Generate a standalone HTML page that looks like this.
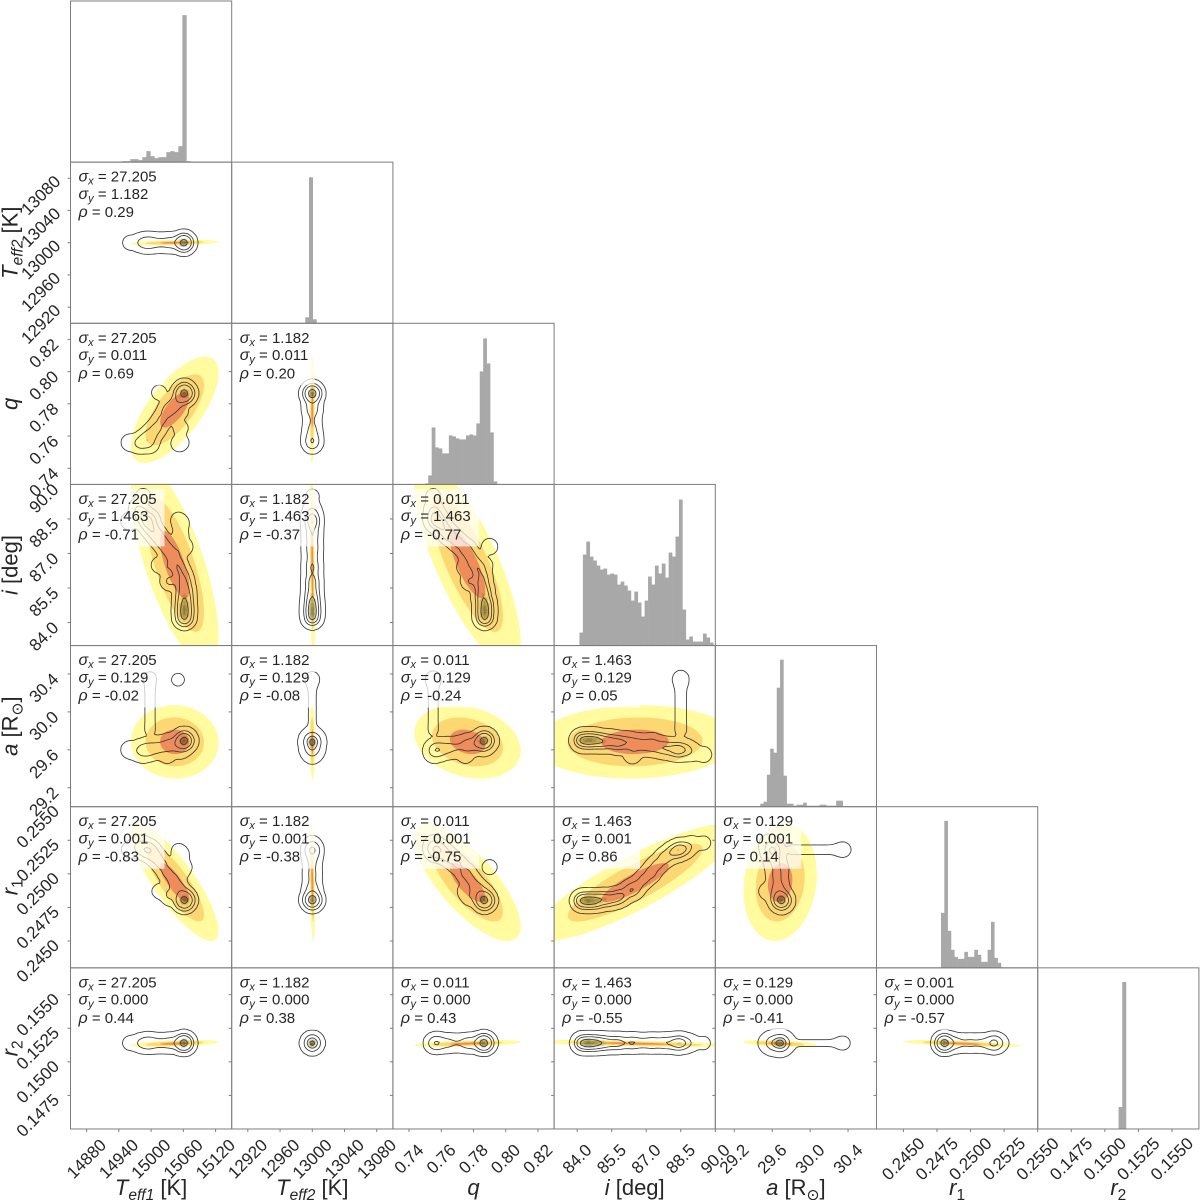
<!DOCTYPE html>
<html lang="en">
<head>
<meta charset="utf-8">
<title>Corner plot</title>
<style>
html,body{margin:0;padding:0;background:#fff;}
svg{display:block;font-family:"Liberation Sans","DejaVu Sans",sans-serif;}
</style>
</head>
<body>
<svg id="chart" xmlns="http://www.w3.org/2000/svg" width="1200" height="1200" viewBox="0 0 1200 1200"></svg>
<script>
// ---------- Data ----------
const paramKeys = ["teff1","teff2","q","i","a","r1","r2"];
const axisMin = [14850,12900,0.73,83,29.0,0.243,0.145];
const axisMax = [15150,13100,0.83,90,30.7,0.255,0.157];
const ticksT1 = [14880,14940,15000,15060,15120];
const ticksT2 = [12920,12960,13000,13040,13080];
const ticksQ = [0.74,0.76,0.78,0.80,0.82];
const ticksI = [84,85.5,87,88.5,90];
const ticksA = [29.2,29.6,30.0,30.4];
const ticksR1 = [0.245,0.2475,0.25,0.2525,0.255];
const ticksR2 = [0.1475,0.15,0.1525,0.155];
const labelsT1 = ["14880","14940","15000","15060","15120"];
const labelsT2 = ["12920","12960","13000","13040","13080"];
const labelsQ = ["0.74","0.76","0.78","0.80","0.82"];
const labelsI = ["84.0","85.5","87.0","88.5","90.0"];
const labelsA = ["29.2","29.6","30.0","30.4"];
const labelsR1 = ["0.2450","0.2475","0.2500","0.2525","0.2550"];
const labelsR2 = ["0.1475","0.1500","0.1525","0.1550"];

// Gaussian summary per parameter (centre and width of the shaded ellipses)
const gaussMean = [15044,13000,0.7763,86.52,29.684,0.24935,0.15136];
const gaussSigma = [27.205,1.182,0.011,1.463,0.129,0.00145,0.00009];
const sigmaText = ["27.205","1.182","0.011","1.463","0.129","0.001","0.000"];

// Correlations, row by row (row 2 has one column, row 3 two, ...)
const rhoRow1 = [0.29];
const rhoRow2 = [0.69,0.20];
const rhoRow3 = [-0.71,-0.37,-0.77];
const rhoRow4 = [-0.02,-0.08,-0.24,0.05];
const rhoRow5 = [-0.83,-0.38,-0.75,0.86,0.14];
const rhoRow6 = [0.44,0.38,0.43,-0.55,-0.41,-0.57];
const rhoTextRow1 = ["0.29"];
const rhoTextRow2 = ["0.69","0.20"];
const rhoTextRow3 = ["-0.71","-0.37","-0.77"];
const rhoTextRow4 = ["-0.02","-0.08","-0.24","0.05"];
const rhoTextRow5 = ["-0.83","-0.38","-0.75","0.86","0.14"];
const rhoTextRow6 = ["0.44","0.38","0.43","-0.55","-0.41","-0.57"];

// Histograms: first bin edge, bin width, bar heights (px-scaled counts, peak 147)
const histStart = [14939,12991.3,0.7498,84.1,29.474,0.2478,0.15102];
const histStep = [7.45,4.6,0.00213,0.149,0.0348,0.000248,0.000275];
const histT1 = [0.5,1,1,3,3,2,5,11,6,4,5,5,10,11,10,16,147,1];
const histT2 = [6,146,4];
const histQ = [1,9,57,37,36,31,31,49,48,46,45,45,49,50,49,61,113,146,121,52,3];
const histI = [13,91,104,89,85,80,76,77,71,72,71,61,64,60,55,45,54,43,29,45,69,61,80,72,82,68,93,89,109,146,36,6,9,4,4,4,12,8,3];
const histA = [3,5,32,58,54,119,147,31,3,3,1,2,2,4,1,1,1,1,2,2,1,1,1,6,6];
const histR1 = [55,147,37,18,11,9,9,16,11,11,18,13,6,6,18,46,10,5];
const histR2 = [22,147];

// Posterior ridge nodes: one sample cluster per array index
const nodeT1 = [15062,15062,15062,15062,15062,15060,15058,15052,15047,15040,15030,15020,15010,15000,14992,14982,14975,14985,15062,15055,15055,15055,14960,15035,15015,14998,14998,14998,14998,14998,14998,14998,14998,15050,15030];
const nodeT2 = [13000,13000,13000,13000,13000,13000,13000,13000,13000,13000,13000,13000,13000,13000,13000,13000,13000,13000,13000,13000,13000,13000,13000,13000,13000,13000,13000,13000,13000,13000,13000,13000,13000,13000,13000];
const nodeQ = [0.787,0.787,0.787,0.786,0.786,0.785,0.785,0.783,0.781,0.778,0.775,0.770,0.765,0.761,0.758,0.756,0.755,0.755,0.790,0.756,0.765,0.775,0.756,0.778,0.787,0.755,0.755,0.755,0.755,0.755,0.755,0.755,0.755,0.755,0.775];
const nodeI = [84.2,84.5,84.8,85.1,85.4,85.7,86.0,86.3,86.6,86.9,87.2,87.5,87.8,88.1,88.4,88.7,89.0,89.5,87.3,88.3,87.8,87.2,88.4,85.8,86.5,88.5,88.5,88.5,88.5,88.5,88.5,88.5,88.5,88.5,86.4];
const nodeA = [29.70,29.70,29.70,29.69,29.69,29.68,29.68,29.67,29.66,29.65,29.65,29.63,29.62,29.61,29.60,29.60,29.58,29.55,29.68,29.60,29.62,29.64,29.60,29.66,29.62,29.80,29.88,29.96,30.04,30.12,30.20,30.28,30.36,30.34,29.55];
const nodeR1 = [0.2480,0.2480,0.2480,0.2481,0.2481,0.2482,0.2484,0.2488,0.2491,0.2496,0.2501,0.2507,0.2512,0.2516,0.2518,0.2519,0.2522,0.2523,0.2505,0.2515,0.2512,0.2500,0.2518,0.2483,0.2487,0.2518,0.2518,0.2518,0.2518,0.2518,0.2518,0.2518,0.2518,0.2518,0.2487];
const nodeR2 = [0.1514,0.1514,0.1514,0.1514,0.1514,0.1514,0.1514,0.1514,0.1514,0.1514,0.1514,0.1514,0.1514,0.1514,0.1514,0.1514,0.1514,0.1514,0.1514,0.1514,0.1514,0.1514,0.1514,0.1514,0.1514,0.1514,0.1514,0.1514,0.1514,0.1514,0.1514,0.1514,0.1514,0.1514,0.1514];
const nodeWeight = [10,12,10,7,5,4,3,3,2.5,2.5,2.5,2.5,3,3.5,5,3,0.8,0.4,0.6,0.7,0.5,0.5,0.8,1.5,0.5,0.14,0.12,0.12,0.12,0.12,0.12,0.14,0.22,0.25,0.8];

// Enclosed-mass fractions of the four contour lines
const contourMass = [0.2,0.55,0.88,0.995];
// Fractions of the peak density shaded by the dark core
const coreFractions = [0.5,0.65,0.78,0.88,0.95];

// ---------- Layout ----------
const SVGNS = "http://www.w3.org/2000/svg";
const root = document.getElementById("chart");
const gridLeft = 70.5, gridTop = 1, cell = 161.2, rowCell = 161.14;
const nVars = paramKeys.length;
const tickSets = [ticksT1,ticksT2,ticksQ,ticksI,ticksA,ticksR1,ticksR2];
const labelSets = [labelsT1,labelsT2,labelsQ,labelsI,labelsA,labelsR1,labelsR2];
const histSets = [histT1,histT2,histQ,histI,histA,histR1,histR2];
const nodeSets = [nodeT1,nodeT2,nodeQ,nodeI,nodeA,nodeR1,nodeR2];
const rhoRows = [[],rhoRow1,rhoRow2,rhoRow3,rhoRow4,rhoRow5,rhoRow6];
const rhoTextRows = [[],rhoTextRow1,rhoTextRow2,rhoTextRow3,rhoTextRow4,rhoTextRow5,rhoTextRow6];

function xScale(v,val){return gridLeft+v*cell+(val-axisMin[v])/(axisMax[v]-axisMin[v])*cell;}
function yScale(v,val){return gridTop+v*rowCell+(axisMax[v]-val)/(axisMax[v]-axisMin[v])*rowCell;}
function make(tag,attrs,parent){
  const e=document.createElementNS(SVGNS,tag);
  for(const k in attrs){e.setAttribute(k,attrs[k]);}
  (parent||root).appendChild(e);
  return e;
}
function f(n){return n.toFixed(2);}

// ---------- Ellipses ----------
function ellipsePath(cx,cy,k,rho){
  const steps=90;let d="";
  const s=Math.sqrt(Math.max(0,1-rho*rho));
  for(let t=0;t<steps;t++){
    const a=t/steps*2*Math.PI;
    const vx=gaussMean[cx]+k*gaussSigma[cx]*Math.cos(a);
    const vy=gaussMean[cy]+k*gaussSigma[cy]*(rho*Math.cos(a)+s*Math.sin(a));
    d+=(t?"L":"M")+f(xScale(cx,vx))+" "+f(yScale(cy,vy));
  }
  return d+"Z";
}

// ---------- Kernel density from the ridge nodes ----------
const gridN=80;
const bandwidth=0.025;
function densityGrid(cx,cy){
  const g=new Float64Array((gridN+1)*(gridN+1));
  const xs=nodeSets[cx],ys=nodeSets[cy];
  const xr=axisMax[cx]-axisMin[cx],yr=axisMax[cy]-axisMin[cy];
  for(let n=0;n<nodeWeight.length;n++){
    const nx=(xs[n]-axisMin[cx])/xr,ny=(axisMax[cy]-ys[n])/yr;
    for(let j=0;j<=gridN;j++){
      const dy=(j/gridN-ny)/bandwidth;
      const ey=Math.exp(-0.5*dy*dy);
      if(ey<1e-7)continue;
      for(let i=0;i<=gridN;i++){
        const dx=(i/gridN-nx)/bandwidth;
        g[j*(gridN+1)+i]+=nodeWeight[n]*ey*Math.exp(-0.5*dx*dx);
      }
    }
  }
  return g;
}
function massLevels(g){
  const sorted=Array.from(g).sort(function(a,b){return b-a;});
  let total=0;for(const v of sorted){total+=v;}
  const out=[];let acc=0,idx=0;
  for(const m of contourMass){
    while(idx<sorted.length&&acc<m*total){acc+=sorted[idx];idx++;}
    out.push(sorted[Math.max(0,idx-1)]);
  }
  return out;
}
function contourPath(g,level,ox,oy){
  const dx=cell/gridN,dy=rowCell/gridN,W=gridN+1;
  let d="";
  function lerp(a,b){return (level-a)/(b-a);}
  for(let j=0;j<gridN;j++){
    for(let i=0;i<gridN;i++){
      const a=g[j*W+i],b=g[j*W+i+1],c=g[(j+1)*W+i+1],e=g[(j+1)*W+i];
      let code=0;
      if(a>=level)code|=8;if(b>=level)code|=4;if(c>=level)code|=2;if(e>=level)code|=1;
      if(code===0||code===15)continue;
      const x0=ox+i*dx,y0=oy+j*dy;
      const T=[x0+lerp(a,b)*dx,y0];
      const R=[x0+dx,y0+lerp(b,c)*dy];
      const B=[x0+lerp(e,c)*dx,y0+dy];
      const L=[x0,y0+lerp(a,e)*dy];
      let segs=[];
      switch(code){
        case 1:case 14:segs=[[L,B]];break;
        case 2:case 13:segs=[[B,R]];break;
        case 3:case 12:segs=[[L,R]];break;
        case 4:case 11:segs=[[T,R]];break;
        case 5:segs=[[L,T],[B,R]];break;
        case 6:case 9:segs=[[T,B]];break;
        case 7:case 8:segs=[[L,T]];break;
        case 10:segs=[[T,R],[L,B]];break;
      }
      for(const s of segs){d+="M"+f(s[0][0])+" "+f(s[0][1])+"L"+f(s[1][0])+" "+f(s[1][1]);}
    }
  }
  return d;
}
function corePath(g,level,ox,oy){
  const dx=cell/gridN,dy=rowCell/gridN,W=gridN+1;
  let d="";
  for(let j=0;j<gridN;j++){
    for(let i=0;i<gridN;i++){
      const v=(g[j*W+i]+g[j*W+i+1]+g[(j+1)*W+i+1]+g[(j+1)*W+i])/4;
      if(v>=level){d+="M"+f(ox+i*dx)+" "+f(oy+j*dy)+"h"+f(dx)+"v"+f(dy)+"h-"+f(dx)+"z";}
    }
  }
  return d;
}

// ---------- Text helpers ----------
function addTspan(parent,text,opts){
  const t=make("tspan",opts||{},parent);
  t.textContent=text;
  return t;
}
function statLine(group,px,py,symbol,sub,value){
  const t=make("text",{x:px,y:py,"font-size":"15","fill":"#262626"},group);
  addTspan(t,symbol,{"font-style":"italic","font-size":"16"});
  if(sub){
    addTspan(t,sub,{"font-style":"italic","font-size":"11","dy":"3"});
    addTspan(t," = "+value,{"dy":"-3"});
  }else{
    addTspan(t," = "+value,{});
  }
  return t;
}
function axisTitle(v,t){
  const it={"font-style":"italic"};
  const sub={"font-style":"italic","font-size":"15.5","dy":"5"};
  const back={"dy":"-5"};
  if(v===0){addTspan(t,"T",it);addTspan(t,"eff1",sub);addTspan(t," [K]",back);}
  if(v===1){addTspan(t,"T",it);addTspan(t,"eff2",sub);addTspan(t," [K]",back);}
  if(v===2){addTspan(t,"q",it);}
  if(v===3){addTspan(t,"i",it);addTspan(t," [deg]",{});}
  if(v===4){addTspan(t,"a",it);addTspan(t," [R",{});addTspan(t,"\u2299",{"font-size":"15.5","dy":"5","font-family":"DejaVu Sans"});addTspan(t,"]",back);}
  if(v===5){addTspan(t,"r",it);addTspan(t,"1",{"font-size":"15.5","dy":"5"});}
  if(v===6){addTspan(t,"r",it);addTspan(t,"2",{"font-size":"15.5","dy":"5"});}
}

// ---------- Build ----------
const defs=make("defs",{});
const layerHist=make("g",{});


const layerJoint=make("g",{});


const layerFrame=make("g",{});


const axisColor="#7d7d7d";

for(let r=0;r<nVars;r++){
  for(let c=0;c<=r;c++){
    const px=gridLeft+c*cell,py=gridTop+r*rowCell;
    if(r===c){
      // Diagonal histogram
      const g=make("g",{},layerHist);
      
      
      const counts=histSets[c];
      const base=py+rowCell;
      for(let b=0;b<counts.length;b++){
        const x0=xScale(c,histStart[c]+b*histStep[c]);
        const x1=xScale(c,histStart[c]+(b+1)*histStep[c]);
        const bar=make("rect",{x:f(x0),y:f(base-counts[b]),width:f(x1-x0+0.3),height:f(counts[b]),fill:"#a8a8a8"},g);
        
        
      }
    }else{
      const g=make("g",{},layerJoint);
      
      
      const clipId="clip-"+r+"-"+c;
      const cp=make("clipPath",{id:clipId},defs);
      make("rect",{x:px,y:py,width:cell,height:rowCell},cp);
      const inner=make("g",{"clip-path":"url(#"+clipId+")"},g);
      
      
      const rho=rhoRows[r][c];
      const shades=[[3,"#fffb9e"],[2,"#fdd771"],[1,"#ee8d5a"]];
      for(const s of shades){
        const el=make("path",{d:ellipsePath(c,r,s[0],rho),fill:s[1]},inner);
        
        
      }
      const grid=densityGrid(c,r);
      let peak=0;for(const v of grid){if(v>peak)peak=v;}
      for(const frac of coreFractions){
        const el=make("path",{d:corePath(grid,peak*frac,px,py),fill:"#2a2a00","fill-opacity":"0.14"},inner);
        
        
      }
      const levels=massLevels(grid);
      for(let l=0;l<levels.length;l++){
        const el=make("path",{d:contourPath(grid,levels[l],px,py),fill:"none",stroke:"#3a3a3a","stroke-width":"0.85","stroke-linecap":"round"},inner);
        
        
      }
      // Statistics box + text
      const boxW=c===0?91:(c===1?80:83);
      const box=make("rect",{x:px+3,y:py+4.5,width:boxW,height:57.5,fill:"#ffffff","fill-opacity":"0.72"},inner);
      
      
      const stats=make("g",{},g);
      
      
      const l1=statLine(stats,px+8,py+19.5,"\u03c3","x",sigmaText[c]);
      
      
      const l2=statLine(stats,px+8,py+36.8,"\u03c3","y",sigmaText[r]);
      
      
      const l3=statLine(stats,px+8,py+55,"\u03c1","",rhoTextRows[r][c]);
      
      
    }
    // Frame
    const frame=make("rect",{x:px,y:py,width:cell,height:rowCell,fill:"none",stroke:axisColor,"stroke-width":"1"},layerFrame);
    
    
    // y ticks on every off-diagonal panel
    if(r!==c){
      for(const tv of tickSets[r]){
        const ty=yScale(r,tv);
        if(ty<py+1||ty>py+rowCell-1)continue;
        const tk=make("line",{x1:px-3,x2:px,y1:f(ty),y2:f(ty),stroke:axisColor,"stroke-width":"1"},layerFrame);
        
        
      }
    }
    // x ticks on bottom row
    if(r===nVars-1){
      for(const tv of tickSets[c]){
        const tx=xScale(c,tv);
        const tk=make("line",{x1:f(tx),x2:f(tx),y1:py+rowCell,y2:py+rowCell+3,stroke:axisColor,"stroke-width":"1"},layerFrame);
        
        
      }
    }
  }
}

// Tick labels and axis titles
const labelLayer=make("g",{"fill":"#262626"});


for(let c=0;c<nVars;c++){
  const ticks=tickSets[c],labels=labelSets[c];
  // x tick labels (bottom row)
  for(let k=0;k<ticks.length;k++){
    const tx=xScale(c,ticks[k]);
    const t=make("text",{x:f(tx),y:"1159","font-size":"17","text-anchor":"middle","dominant-baseline":"central",transform:"rotate(-45 "+f(tx)+" 1159)"},labelLayer);
    t.textContent=labels[k];
    
    
  }
  const xt=make("text",{x:f(gridLeft+(c+0.5)*cell),y:"1195","font-size":"22","text-anchor":"middle"},labelLayer);
  axisTitle(c,xt);
  
  
  if(c>0){
    // y tick labels (first column)
    for(let k=0;k<ticks.length;k++){
      const ty=yScale(c,ticks[k]);
      const approx=labels[k].length*8.6;
      const h=(approx+11)/(2*Math.SQRT2);
      const lx=60-h,ly=ty-2+h;
      const t=make("text",{x:f(lx),y:f(ly),"font-size":"17","text-anchor":"middle","dominant-baseline":"central",transform:"rotate(-45 "+f(lx)+" "+f(ly)+")"},labelLayer);
      t.textContent=labels[k];
      
      
    }
    const yc=gridTop+(c+0.5)*rowCell;
    const yt=make("text",{x:"0",y:"0","font-size":"22","text-anchor":"middle",transform:"translate(17.5 "+f(yc)+") rotate(-90)"},labelLayer);
    axisTitle(c,yt);
    
    
  }
}
</script>
</body>
</html>
